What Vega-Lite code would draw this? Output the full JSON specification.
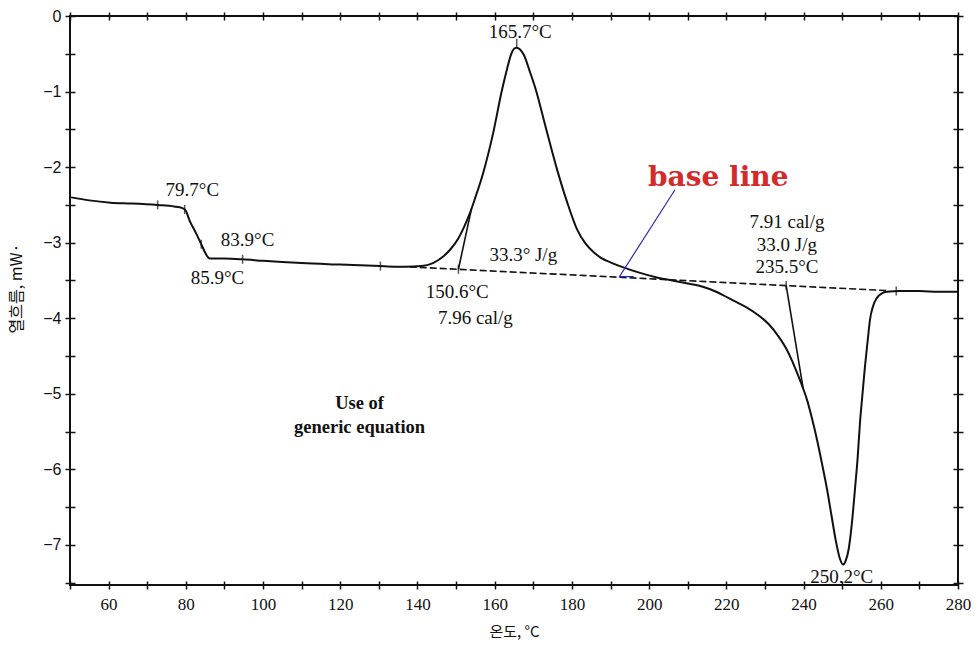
{
  "$schema": "https://vega.github.io/schema/vega-lite/v6.json",
  "width": 888,
  "height": 569,
  "autosize": {"type": "none"},
  "padding": {"left": 70, "top": 16, "right": 20, "bottom": 63},
  "background": "white",
  "config": {
    "view": {"stroke": "#111", "strokeWidth": 2},
    "axis": {
      "domain": false,
      "grid": false,
      "tickColor": "#111",
      "tickWidth": 1.5,
      "labelColor": "#111",
      "labelFont": "Liberation Serif",
      "labelFlush": false,
      "labelOverlap": false,
      "titleColor": "#111",
      "titleFontWeight": "normal"
    }
  },
  "datasets": {
    "curve": [
      {"T": 50.3, "v": -2.40}, {"T": 55, "v": -2.44}, {"T": 60.5, "v": -2.47}, {"T": 66, "v": -2.48},
      {"T": 72.7, "v": -2.50}, {"T": 77, "v": -2.52}, {"T": 79, "v": -2.54}, {"T": 79.9, "v": -2.57},
      {"T": 81, "v": -2.71}, {"T": 82.5, "v": -2.86}, {"T": 84, "v": -3.02}, {"T": 85.3, "v": -3.16},
      {"T": 86.2, "v": -3.21}, {"T": 90, "v": -3.21}, {"T": 94.7, "v": -3.22}, {"T": 100, "v": -3.24},
      {"T": 110, "v": -3.27}, {"T": 120, "v": -3.29}, {"T": 130.4, "v": -3.31}, {"T": 137, "v": -3.32},
      {"T": 141, "v": -3.31}, {"T": 144, "v": -3.27}, {"T": 146.5, "v": -3.19}, {"T": 148.5, "v": -3.09},
      {"T": 150.5, "v": -2.95}, {"T": 152, "v": -2.80}, {"T": 153.5, "v": -2.62}, {"T": 155, "v": -2.40},
      {"T": 157, "v": -2.08}, {"T": 159.6, "v": -1.55}, {"T": 161.8, "v": -1.00}, {"T": 163.2, "v": -0.70},
      {"T": 164.3, "v": -0.50}, {"T": 165.1, "v": -0.43}, {"T": 165.7, "v": -0.42}, {"T": 166.5, "v": -0.44},
      {"T": 167.6, "v": -0.52}, {"T": 169, "v": -0.72}, {"T": 170.5, "v": -0.95}, {"T": 173.4, "v": -1.51},
      {"T": 176.2, "v": -2.04}, {"T": 178.8, "v": -2.47}, {"T": 181.3, "v": -2.82}, {"T": 183.5, "v": -3.01},
      {"T": 185.5, "v": -3.12}, {"T": 187.5, "v": -3.20}, {"T": 190, "v": -3.26}, {"T": 193, "v": -3.32},
      {"T": 197, "v": -3.39}, {"T": 202, "v": -3.46}, {"T": 206, "v": -3.50}, {"T": 210, "v": -3.54},
      {"T": 213, "v": -3.57}, {"T": 216, "v": -3.62}, {"T": 219, "v": -3.69}, {"T": 222, "v": -3.77},
      {"T": 225, "v": -3.85}, {"T": 228, "v": -3.95}, {"T": 231, "v": -4.08}, {"T": 233.5, "v": -4.24},
      {"T": 235.7, "v": -4.42}, {"T": 237, "v": -4.56}, {"T": 238.3, "v": -4.72}, {"T": 239.6, "v": -4.89},
      {"T": 240.9, "v": -5.08}, {"T": 242.2, "v": -5.33}, {"T": 243.5, "v": -5.61}, {"T": 244.8, "v": -5.93},
      {"T": 246.1, "v": -6.27}, {"T": 247.2, "v": -6.60}, {"T": 248.3, "v": -6.93}, {"T": 249.4, "v": -7.18},
      {"T": 250.2, "v": -7.26}, {"T": 250.9, "v": -7.21}, {"T": 251.7, "v": -7.05}, {"T": 252.5, "v": -6.72},
      {"T": 253.3, "v": -6.27}, {"T": 254, "v": -5.85}, {"T": 254.6, "v": -5.39}, {"T": 255.3, "v": -4.98},
      {"T": 255.9, "v": -4.64}, {"T": 256.6, "v": -4.30}, {"T": 257.2, "v": -4.02}, {"T": 258, "v": -3.84},
      {"T": 259, "v": -3.73}, {"T": 260.3, "v": -3.67}, {"T": 261.6, "v": -3.65}, {"T": 265, "v": -3.64},
      {"T": 270, "v": -3.64}, {"T": 275, "v": -3.65}, {"T": 280, "v": -3.65}
    ],
    "baseline": [
      {"T": 138, "v": -3.32}, {"T": 262, "v": -3.635}
    ],
    "tangents": [
      {"seg": "exo", "T": 150.6, "v": -3.352}, {"seg": "exo", "T": 154.0, "v": -2.55},
      {"seg": "endo", "T": 235.5, "v": -3.568}, {"seg": "endo", "T": 239.9, "v": -4.93}
    ],
    "pointer": [
      {"step": 1, "T": 206.7, "v": -2.30}, {"step": 2, "T": 192.3, "v": -3.45}, {"step": 3, "T": 196.0, "v": -3.45}
    ],
    "markers": [
      {"T": 72.7, "v": -2.50}, {"T": 79.7, "v": -2.56}, {"T": 84.0, "v": -3.02}, {"T": 94.7, "v": -3.22},
      {"T": 130.4, "v": -3.31}, {"T": 150.6, "v": -3.352}, {"T": 165.7, "v": -0.36}, {"T": 235.5, "v": -3.568},
      {"T": 264, "v": -3.64}
    ],
    "notes": [
      {"T": 81.7, "v": -2.30, "label": "79.7°C"},
      {"T": 96.0, "v": -2.96, "label": "83.9°C"},
      {"T": 88.2, "v": -3.47, "label": "85.9°C"},
      {"T": 166.6, "v": -0.21, "label": "165.7°C"},
      {"T": 167.4, "v": -3.16, "label": "33.3° J/g"},
      {"T": 150.3, "v": -3.65, "label": "150.6°C"},
      {"T": 155.0, "v": -4.00, "label": "7.96 cal/g"},
      {"T": 235.7, "v": -2.72, "label": "7.91 cal/g"},
      {"T": 235.7, "v": -3.03, "label": "33.0 J/g"},
      {"T": 235.7, "v": -3.32, "label": "235.5°C"},
      {"T": 249.9, "v": -7.42, "label": "250.2°C"}
    ],
    "callout": [
      {"T": 217.9, "v": -2.14, "label": "base line"}
    ],
    "caption": [
      {"T": 125.0, "v": -5.12, "label": "Use of"},
      {"T": 125.0, "v": -5.44, "label": "generic equation"}
    ]
  },
  "resolve": {"axis": {"x": "independent", "y": "independent"}},
  "layer": [
    {
      "data": {"name": "curve"},
      "mark": {"type": "line", "color": "#111", "strokeWidth": 2, "interpolate": "monotone"},
      "encoding": {
        "x": {
          "field": "T", "type": "quantitative",
          "scale": {"domain": [50, 280], "nice": false, "zero": false},
          "axis": {
            "orient": "bottom",
            "values": [50, 60, 70, 80, 90, 100, 110, 120, 130, 140, 150, 160, 170, 180, 190, 200, 210, 220, 230, 240, 250, 260, 270, 280],
            "labelExpr": "datum.value % 20 === 0 ? format(datum.value, 'd') : ''",
            "tickSize": 8, "offset": -4, "labelPadding": 7,
            "labelFont": "Liberation Serif", "labelFontSize": 17,
            "title": "온도, °C", "titleFont": "Noto Sans CJK KR", "titleFontSize": 15, "titlePadding": 12
          }
        },
        "y": {
          "field": "v", "type": "quantitative",
          "scale": {"domain": [-7.53, 0], "nice": false, "zero": false},
          "axis": {
            "orient": "left",
            "values": [-7.5, -7, -6.5, -6, -5.5, -5, -4.5, -4, -3.5, -3, -2.5, -2, -1.5, -1, -0.5, 0],
            "labelExpr": "datum.value % 1 === 0 ? format(datum.value, 'd') : ''",
            "tickSize": 10, "offset": -5, "labelPadding": 4,
            "labelFont": "Liberation Sans", "labelFontSize": 16,
            "title": "열흐름, mW·", "titleFont": "Noto Sans CJK KR", "titleFontSize": 16,
            "titleBaseline": "middle", "titleX": -59, "titleY": 272
          }
        }
      }
    },
    {
      "data": {"name": "baseline"},
      "mark": {"type": "line", "color": "#111", "strokeWidth": 1.6, "strokeDash": [7, 3]},
      "encoding": {
        "x": {
          "field": "T", "type": "quantitative",
          "scale": {"domain": [50, 280], "nice": false, "zero": false},
          "axis": {
            "orient": "top",
            "values": [50, 60, 70, 80, 90, 100, 110, 120, 130, 140, 150, 160, 170, 180, 190, 200, 210, 220, 230, 240, 250, 260, 270, 280],
            "labels": false, "tickSize": 8, "offset": -4, "title": null
          }
        },
        "y": {
          "field": "v", "type": "quantitative",
          "scale": {"domain": [-7.53, 0], "nice": false, "zero": false},
          "axis": {
            "orient": "right",
            "values": [-7.5, -7, -6.5, -6, -5.5, -5, -4.5, -4, -3.5, -3, -2.5, -2, -1.5, -1, -0.5, 0],
            "labels": false, "tickSize": 10, "offset": -5, "title": null
          }
        }
      }
    },
    {
      "data": {"name": "tangents"},
      "mark": {"type": "line", "color": "#111", "strokeWidth": 1.6},
      "encoding": {
        "x": {"field": "T", "type": "quantitative", "scale": {"domain": [50, 280], "nice": false, "zero": false}, "axis": null},
        "y": {"field": "v", "type": "quantitative", "scale": {"domain": [-7.53, 0], "nice": false, "zero": false}, "axis": null},
        "detail": {"field": "seg"}
      }
    },
    {
      "data": {"name": "pointer"},
      "mark": {"type": "line", "color": "#2a2ab8", "strokeWidth": 1.2},
      "encoding": {
        "x": {"field": "T", "type": "quantitative", "scale": {"domain": [50, 280], "nice": false, "zero": false}, "axis": null},
        "y": {"field": "v", "type": "quantitative", "scale": {"domain": [-7.53, 0], "nice": false, "zero": false}, "axis": null},
        "order": {"field": "step"}
      }
    },
    {
      "data": {"name": "markers"},
      "mark": {"type": "tick", "orient": "vertical", "color": "#111", "size": 9, "thickness": 1.5},
      "encoding": {
        "x": {"field": "T", "type": "quantitative", "scale": {"domain": [50, 280], "nice": false, "zero": false}, "axis": null},
        "y": {"field": "v", "type": "quantitative", "scale": {"domain": [-7.53, 0], "nice": false, "zero": false}, "axis": null}
      }
    },
    {
      "data": {"name": "notes"},
      "mark": {"type": "text", "font": "Liberation Serif", "fontSize": 19, "color": "#111", "align": "center", "baseline": "middle"},
      "encoding": {
        "x": {"field": "T", "type": "quantitative", "scale": {"domain": [50, 280], "nice": false, "zero": false}, "axis": null},
        "y": {"field": "v", "type": "quantitative", "scale": {"domain": [-7.53, 0], "nice": false, "zero": false}, "axis": null},
        "text": {"field": "label"}
      }
    },
    {
      "data": {"name": "callout"},
      "mark": {"type": "text", "font": "DejaVu Serif", "fontWeight": "bold", "fontSize": 28, "color": "#d42a2a", "align": "center", "baseline": "middle"},
      "encoding": {
        "x": {"field": "T", "type": "quantitative", "scale": {"domain": [50, 280], "nice": false, "zero": false}, "axis": null},
        "y": {"field": "v", "type": "quantitative", "scale": {"domain": [-7.53, 0], "nice": false, "zero": false}, "axis": null},
        "text": {"field": "label"}
      }
    },
    {
      "data": {"name": "caption"},
      "mark": {"type": "text", "font": "Liberation Serif", "fontWeight": "bold", "fontSize": 18.5, "color": "#111", "align": "center", "baseline": "middle"},
      "encoding": {
        "x": {"field": "T", "type": "quantitative", "scale": {"domain": [50, 280], "nice": false, "zero": false}, "axis": null},
        "y": {"field": "v", "type": "quantitative", "scale": {"domain": [-7.53, 0], "nice": false, "zero": false}, "axis": null},
        "text": {"field": "label"}
      }
    }
  ]
}
